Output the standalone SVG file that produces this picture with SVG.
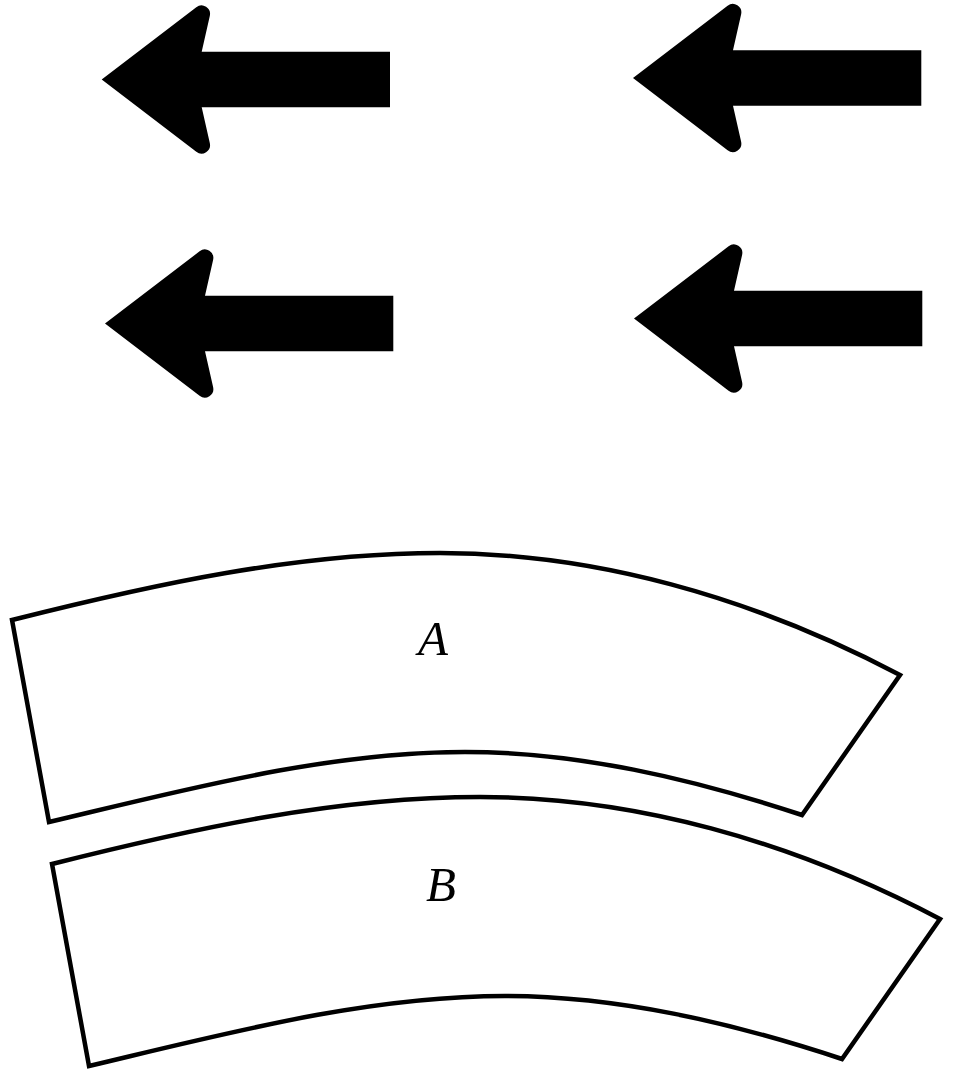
<svg xmlns="http://www.w3.org/2000/svg" xmlns:xlink="http://www.w3.org/1999/xlink" width="960" height="1081" viewBox="0 0 960 1081">
<style>
.arrow{fill:#000;stroke:none}
.band{fill:#fff;stroke:#000;stroke-width:4.5;stroke-linejoin:miter}
.lbl{font-family:"Liberation Serif","Times New Roman",serif;font-style:italic;font-size:49px;fill:#000;text-anchor:middle}
</style>
<defs>
<path id="arr" d="M0,0 L94.6,-72.2 A8.5,8.5 0 0 1 108.1,-63.6 L100,-27.8 L288.3,-27.8 L288.3,27.8 L100,27.8 L108.1,63.6 A8.5,8.5 0 0 1 94.6,72.2 Z"/>
<path id="bandShape" d="M12,620 C155,584 297,553 440,553 C593,553 750,596 900,675 L802,815 C690,778 577,752 465,752 C327,752 188,789 49,822 Z"/>
</defs>
<rect width="960" height="1081" fill="#fff"/>
<g id="arrow1"><use xlink:href="#arr" href="#arr" class="arrow" transform="translate(101.7,79.5)"/></g>
<g id="arrow2"><use xlink:href="#arr" href="#arr" class="arrow" transform="translate(633,78)"/></g>
<g id="arrow3"><use xlink:href="#arr" href="#arr" class="arrow" transform="translate(105,323.5)"/></g>
<g id="arrow4"><use xlink:href="#arr" href="#arr" class="arrow" transform="translate(634,318.5)"/></g>
<g id="blockA">
<use xlink:href="#bandShape" href="#bandShape" class="band"/>
<text class="lbl" x="433" y="655">A</text>
</g>
<g id="blockB">
<use xlink:href="#bandShape" href="#bandShape" class="band" transform="translate(40,244)"/>
<text class="lbl" x="441" y="901">B</text>
</g>
<g id="connectors"></g>
</svg>
